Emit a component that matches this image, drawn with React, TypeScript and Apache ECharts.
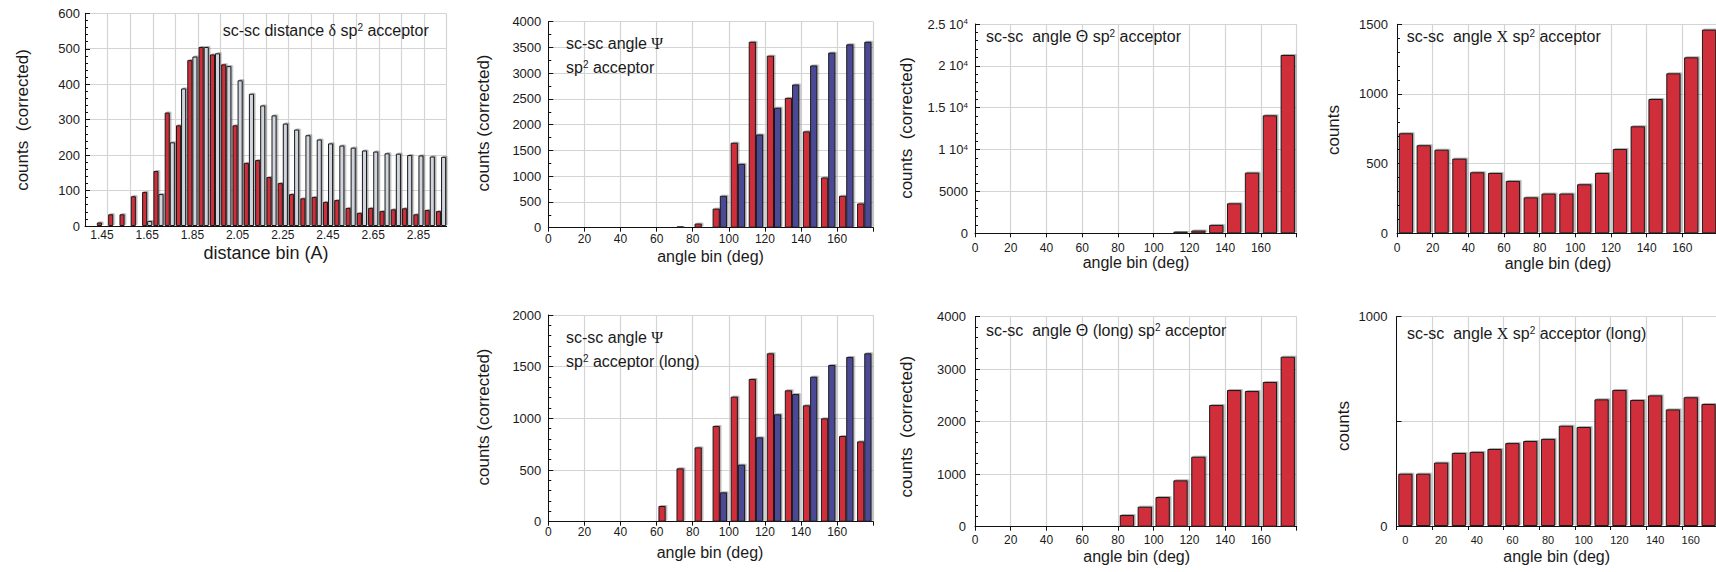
import React, { useEffect, useRef } from 'react';
import * as echarts from 'echarts';

// ---------- data ----------
const distanceBins = ['1.40', '1.45', '1.50', '1.55', '1.60', '1.65', '1.70', '1.75', '1.80', '1.85', '1.90', '1.95', '2.00', '2.05', '2.10', '2.15', '2.20', '2.25', '2.30', '2.35', '2.40', '2.45', '2.50', '2.55', '2.60', '2.65', '2.70', '2.75', '2.80', '2.85', '2.90', '2.95'];
const distanceRed = [0, 10, 33, 33, 84, 96, 155, 320, 284, 468, 505, 484, 456, 284, 178, 186, 138, 121, 90, 78, 82, 68, 73, 51, 37, 51, 42, 47, 50, 33, 45, 42];
const distanceGrey = [0, 0, 0, 0, 0, 14, 90, 236, 388, 478, 505, 487, 451, 411, 373, 340, 312, 289, 272, 256, 244, 233, 227, 221, 213, 210, 205, 204, 200, 199, 196, 195];

const angleBins = ['0', '10', '20', '30', '40', '50', '60', '70', '80', '90', '100', '110', '120', '130', '140', '150', '160', '170'];
const psiRed = [0, 0, 0, 0, 0, 0, 5, 25, 80, 370, 1650, 3610, 3340, 2520, 1870, 975, 620, 470];
const psiBlue = [0, 0, 0, 0, 0, 0, 0, 0, 5, 620, 1240, 1810, 2330, 2780, 3150, 3400, 3560, 3610];
const thetaCounts = [0, 0, 0, 0, 0, 0, 0, 0, 0, 40, 60, 200, 330, 1000, 3580, 7250, 14090, 21300];
const chiCounts = [718, 632, 600, 536, 438, 433, 376, 258, 285, 285, 352, 433, 605, 768, 964, 1148, 1263, 1462];
const psiLongRed = [0, 0, 0, 0, 0, 0, 152, 516, 719, 926, 1210, 1381, 1629, 1271, 1126, 1000, 829, 777];
const psiLongBlue = [0, 0, 0, 0, 0, 0, 0, 0, 3, 284, 552, 816, 1039, 1235, 1403, 1516, 1594, 1629];
const thetaLongCounts = [0, 0, 0, 0, 0, 0, 0, 0, 222, 381, 565, 883, 1333, 2317, 2603, 2584, 2756, 3238];
const chiLongCounts = [250, 250, 303, 349, 354, 368, 396, 406, 416, 479, 473, 605, 650, 602, 624, 557, 615, 583];

// ---------- style ----------
const FONT = "'Liberation Sans', Arial, Helvetica, sans-serif";
const SERIF = "'Liberation Serif', 'DejaVu Serif', serif";
const RED = '#d12e3a';
const BLUE = '#4b4a96';
const GREY = '#d0d4dd';
const INK = '#1a1a1a';
const GRIDLINE = '#d4d4d4';

const LAYOUT = [
  { left: 85, top: 13.3, width: 361.7, height: 212.7, yMax: 600, yInt: 100, minor: 5, yMargin: 5, xMargin: 3 },
  { left: 548.3, top: 21.7, width: 325, height: 206, yMax: 4000, yInt: 500, minor: 2, yMargin: 7, xMargin: 5 },
  { left: 975, top: 24, width: 321.7, height: 209.3, yMax: 25000, yInt: 5000, minor: 5, yMargin: 7, xMargin: 9 },
  { left: 1397, top: 24.3, width: 321, height: 209, yMax: 1500, yInt: 500, minor: 5, yMargin: 9, xMargin: 9 },
  { left: 548.3, top: 315, width: 325, height: 206.7, yMax: 2000, yInt: 500, minor: 5, yMargin: 7, xMargin: 4 },
  { left: 975, top: 316.7, width: 321.7, height: 210, yMax: 4000, yInt: 1000, minor: 5, yMargin: 9, xMargin: 7 },
  { left: 1396.5, top: 316.7, width: 321, height: 209.3, yMax: 1000, yInt: 500, minor: 0, yMargin: 9, xMargin: 8 },
];

const barStyle = (color: string) => ({
  color,
  borderColor: INK,
  borderWidth: 1,
  shadowColor: 'rgba(0,0,0,0.3)',
  shadowOffsetX: 1.5,
  shadowOffsetY: -1,
  shadowBlur: 1,
});

const supRich = {
  sup: { fontSize: 10, fontFamily: FONT, verticalAlign: 'top', lineHeight: 10, padding: [0, 0, 0, 0], fill: INK },
  sym: { fontSize: 16, fontFamily: SERIF, fill: INK },
};

function buildOption() {
  const grid: any[] = [];
  const xAxis: any[] = [];
  const yAxis: any[] = [];
  const series: any[] = [];

  LAYOUT.forEach((g, i) => {
    grid.push({ left: g.left, top: g.top, width: g.width, height: g.height, containLabel: false, outerBoundsMode: 'none' });
    yAxis.push({
      gridIndex: i,
      type: 'value',
      min: 0,
      max: g.yMax,
      interval: g.yInt,
      axisLine: { show: true, lineStyle: { color: '#111', width: 1 } },
      axisTick: { show: true, inside: true, length: 5, lineStyle: { color: '#111' } },
      minorTick: { show: g.minor > 0, splitNumber: g.minor || 5, length: 3, lineStyle: { color: '#111' } },
      axisLabel: {
        color: INK,
        fontSize: 13,
        fontFamily: FONT,
        margin: g.yMargin,
        formatter:
          i === 2
            ? (v: number) => (v === 0 ? '0' : v === 5000 ? '5000' : `${v / 10000} 10{sup|4}`)
            : i === 6
            ? (v: number) => (v === 500 ? '' : String(v))
            : (v: number) => String(v),
        rich: { sup: { fontSize: 8, fontFamily: FONT, verticalAlign: 'top', lineHeight: 8, fill: INK } },
      },
      splitLine: { show: true, lineStyle: { color: GRIDLINE, width: 1.2 } },
    });
  });

  // grid 0: distance histogram
  xAxis.push({
    gridIndex: 0,
    type: 'category',
    position: 'bottom',
    data: distanceBins,
    axisLine: { lineStyle: { color: '#111' } },
    axisTick: { show: false },
    axisLabel: { interval: (idx: number) => idx % 4 === 1, color: INK, fontSize: 12, fontFamily: FONT, margin: LAYOUT[0].xMargin },
    splitLine: { show: true, interval: 1, lineStyle: { color: GRIDLINE, width: 1.2 } },
  });
  const catIdx: number[] = [0];
  for (let i = 1; i < 7; i++) {
    catIdx.push(xAxis.length);
    if (i === 6) {
      xAxis.push({
        gridIndex: i,
        type: 'category',
        position: 'bottom',
        data: angleBins,
        axisLine: { lineStyle: { color: '#111' } },
        axisTick: { show: true, interval: 1, length: 4, lineStyle: { color: '#111' } },
        axisLabel: { interval: 1, color: INK, fontSize: 11, fontFamily: FONT, margin: LAYOUT[i].xMargin },
        splitLine: { show: true, interval: 1, lineStyle: { color: GRIDLINE, width: 1.2 } },
      });
    } else {
      xAxis.push({
        gridIndex: i,
        type: 'category',
        position: 'bottom',
        data: angleBins,
        axisLine: { lineStyle: { color: '#111' } },
        axisTick: { show: false },
        axisLabel: { show: false },
        splitLine: { show: false },
      });
      xAxis.push({
        gridIndex: i,
        type: 'value',
        position: 'bottom',
        min: 0,
        max: 180,
        interval: 20,
        axisLine: { show: false },
        axisTick: { show: true, length: 4, lineStyle: { color: '#111' } },
        axisLabel: {
          color: INK,
          fontSize: 12,
          fontFamily: FONT,
          margin: LAYOUT[i].xMargin,
          formatter: (v: number) => (v === 180 ? '' : String(v)),
        },
        splitLine: { show: true, lineStyle: { color: GRIDLINE, width: 1.2 } },
      });
    }
  }

  const addBars = (gi: number, data: number[], color: string, cat: string) =>
    series.push({
      type: 'bar',
      xAxisIndex: catIdx[gi],
      yAxisIndex: gi,
      data,
      barGap: '0%',
      barCategoryGap: cat,
      itemStyle: barStyle(color),
      z: 3,
    });

  addBars(0, distanceRed, RED, '10%');
  addBars(0, distanceGrey, GREY, '10%');
  addBars(1, psiRed, RED, '20%');
  addBars(1, psiBlue, BLUE, '20%');
  addBars(2, thetaCounts, RED, '20%');
  addBars(3, chiCounts, RED, '20%');
  addBars(4, psiLongRed, RED, '20%');
  addBars(4, psiLongBlue, BLUE, '20%');
  addBars(5, thetaLongCounts, RED, '20%');
  addBars(6, chiLongCounts, RED, '20%');

  const NB = '\u00a0';
  const yTitles = [
    { x: 22, y: 120, t: `counts${NB} (corrected)` },
    { x: 483, y: 123, t: 'counts (corrected)' },
    { x: 906.7, y: 128, t: `counts${NB} (corrected)` },
    { x: 1333, y: 130, t: 'counts' },
    { x: 483, y: 417, t: 'counts (corrected)' },
    { x: 906.7, y: 426.7, t: `counts${NB} (corrected)` },
    { x: 1343, y: 426, t: 'counts' },
  ];
  const xTitles = [
    { x: 266, y: 253, t: 'distance bin (A)', s: 18 },
    { x: 710.5, y: 256, t: 'angle bin (deg)', s: 16 },
    { x: 1136, y: 262.7, t: 'angle bin (deg)', s: 16 },
    { x: 1558, y: 263, t: 'angle bin (deg)', s: 16 },
    { x: 710, y: 552, t: 'angle bin (deg)', s: 16 },
    { x: 1136.7, y: 556, t: 'angle bin (deg)', s: 16 },
    { x: 1556.7, y: 556, t: 'angle bin (deg)', s: 16 },
  ];
  const plotTitles = [
    { x: 222.7, y: 30, t: 'sc-sc distance {sym|δ} sp{sup|2} acceptor' },
    { x: 566, y: 43, t: 'sc-sc angle {sym|Ψ}' },
    { x: 566, y: 67, t: 'sp{sup|2} acceptor' },
    { x: 986, y: 36.7, t: `sc-sc${NB} angle Θ sp{sup|2} acceptor` },
    { x: 1406.7, y: 36.7, t: `sc-sc${NB} angle {sym|X} sp{sup|2} acceptor` },
    { x: 566, y: 337, t: 'sc-sc angle {sym|Ψ}' },
    { x: 566, y: 361.7, t: 'sp{sup|2} acceptor (long)' },
    { x: 986, y: 330.7, t: `sc-sc${NB} angle Θ (long) sp{sup|2} acceptor` },
    { x: 1407, y: 333, t: `sc-sc${NB} angle {sym|X} sp{sup|2} acceptor (long)` },
  ];

  const graphic: any[] = [];
  yTitles.forEach((o) =>
    graphic.push({
      type: 'text',
      x: o.x,
      y: o.y,
      rotation: Math.PI / 2,
      z: 10,
      style: { text: o.t, fill: INK, font: `17px ${FONT}`, align: 'center', verticalAlign: 'middle' },
    })
  );
  xTitles.forEach((o) =>
    graphic.push({
      type: 'text',
      x: o.x,
      y: o.y,
      z: 10,
      style: { text: o.t, fill: INK, font: `${o.s}px ${FONT}`, align: 'center', verticalAlign: 'middle' },
    })
  );
  plotTitles.forEach((o) =>
    graphic.push({
      type: 'text',
      x: o.x,
      y: o.y,
      z: 10,
      style: { text: o.t, fill: INK, font: `16px ${FONT}`, align: 'left', verticalAlign: 'middle', rich: supRich },
    })
  );

  return {
    animation: false,
    backgroundColor: '#ffffff',
    grid,
    xAxis,
    yAxis,
    series,
    graphic,
  };
}

export default function App() {
  const ref = useRef<HTMLDivElement>(null);
  useEffect(() => {
    if (!ref.current) return;
    const chart = echarts.init(ref.current, undefined, { renderer: 'svg' });
    chart.setOption(buildOption() as any);
    return () => chart.dispose();
  }, []);
  return (
    <div style={{ position: 'fixed', left: 0, top: 0, width: 1716, height: 572, overflow: 'hidden', background: '#fff' }}>
      <div ref={ref} style={{ width: 1730, height: 572 }} />
    </div>
  );
}
